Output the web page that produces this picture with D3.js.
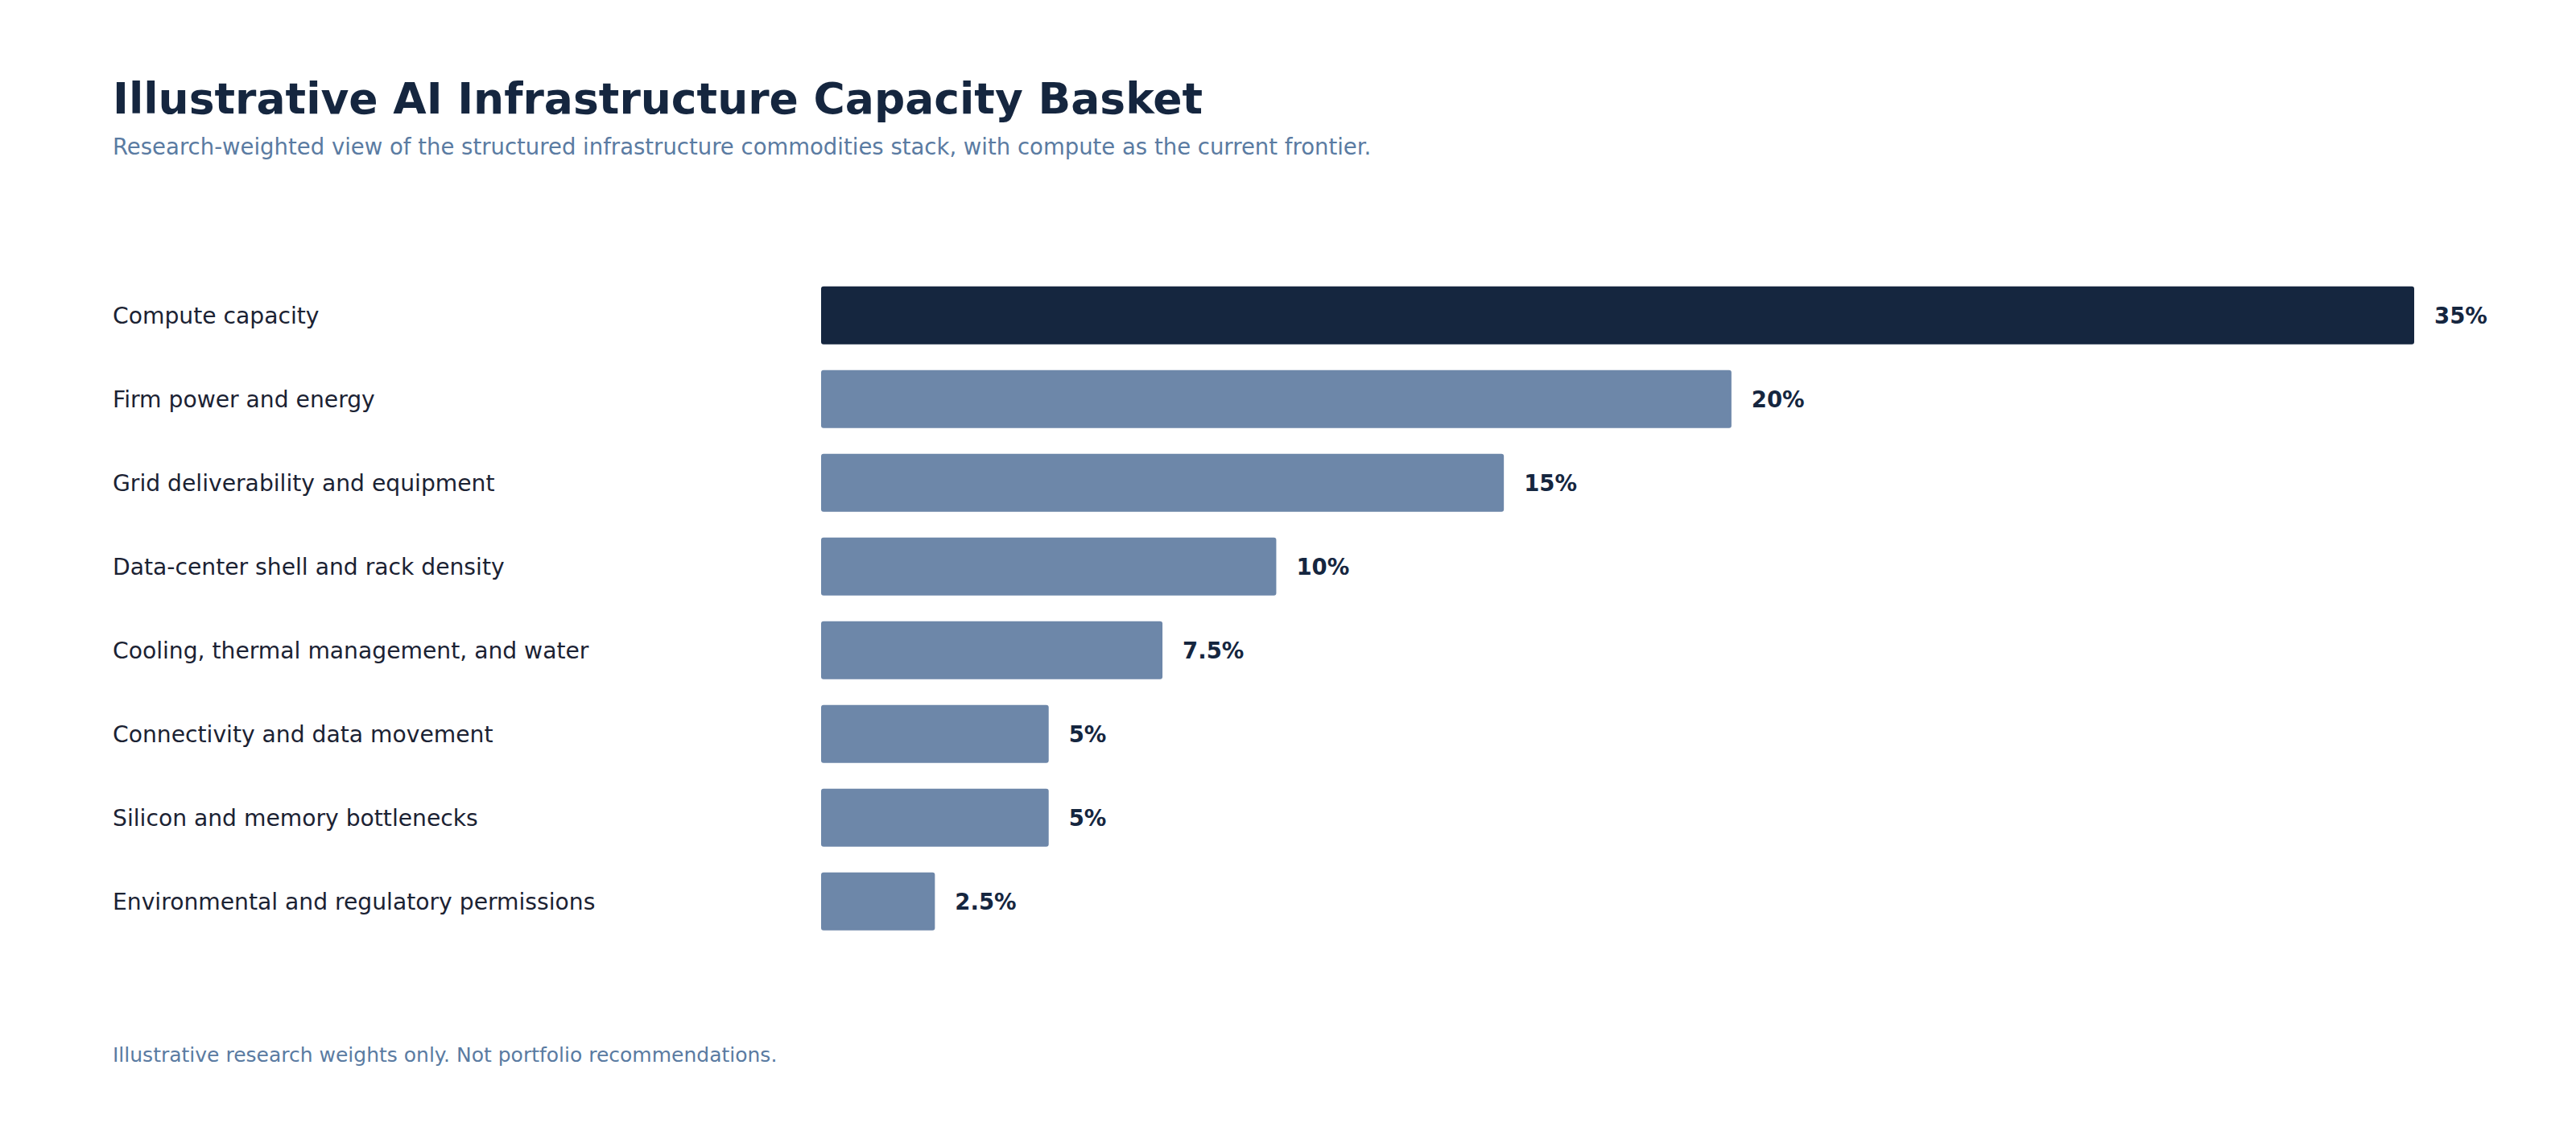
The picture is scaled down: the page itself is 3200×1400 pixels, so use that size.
<!DOCTYPE html>
<html>
<head>
<meta charset="utf-8">
<script src="https://cdn.jsdelivr.net/npm/d3@7"></script>
<style>
  body { margin: 0; background: #ffffff; }
  svg text { font-family: "DejaVu Sans", sans-serif; }
</style>
</head>
<body>
<div id="chart"></div>
<script>
// basket weights, in percent
var categories = [
    'Compute capacity',
    'Firm power and energy',
    'Grid deliverability and equipment',
    'Data-center shell and rack density',
    'Cooling, thermal management, and water',
    'Connectivity and data movement',
    'Silicon and memory bottlenecks',
    'Environmental and regulatory permissions'
];
var weights = [35, 20, 15, 10, 7.5, 5, 5, 2.5];
var weightLabels = ['35%', '20%', '15%', '10%', '7.5%', '5%', '5%', '2.5%'];

var width = 3200;
var height = 1400;
var darkNavy = '#15263f';
var slate = '#6d87a9';
var mutedBlue = '#5a7ba2';

var svg = d3.select('#chart')
    .append('svg')
    .attr('width', width)
    .attr('height', height);

svg.append('rect')
    .attr('width', width)
    .attr('height', height)
    .attr('fill', '#ffffff');

// title block
svg.append('text')
    .attr('x', 140)
    .attr('y', 141)
    .attr('font-size', 53.5)
    .attr('font-weight', 'bold')
    .attr('fill', darkNavy)
    .text('Illustrative AI Infrastructure Capacity Basket');

svg.append('text')
    .attr('x', 140)
    .attr('y', 192)
    .attr('font-size', 27.5)
    .attr('fill', mutedBlue)
    .text('Research-weighted view of the structured infrastructure commodities stack, with compute as the current frontier.');

var x = d3.scaleLinear()
    .domain([0, 35])
    .range([1020, 2999]);

var y = d3.scaleBand()
    .domain(categories)
    .range([323.7, 1187.7])
    .padding(0.3077);

var rows = svg.append('g')
    .selectAll('g')
    .data(categories)
    .join('g');

rows.append('text')
    .attr('x', 140)
    .attr('y', function (d) { return y(d) + y.bandwidth() / 2; })
    .attr('dy', '0.36em')
    .attr('font-size', 28.2)
    .attr('fill', '#1b2233')
    .text(function (d) { return d; });

rows.append('rect')
    .attr('x', x(0))
    .attr('y', function (d) { return y(d); })
    .attr('width', function (d, i) { return x(weights[i]) - x(0); })
    .attr('height', y.bandwidth())
    .attr('rx', 3)
    .attr('ry', 3)
    .attr('fill', function (d, i) { return i === 0 ? darkNavy : slate; });

rows.append('text')
    .attr('x', function (d, i) { return x(weights[i]) + 25; })
    .attr('y', function (d) { return y(d) + y.bandwidth() / 2; })
    .attr('dy', '0.36em')
    .attr('font-size', 27.5)
    .attr('font-weight', 'bold')
    .attr('fill', darkNavy)
    .text(function (d, i) { return weightLabels[i]; });

// footnote
svg.append('text')
    .attr('x', 140)
    .attr('y', 1319)
    .attr('font-size', 25)
    .attr('fill', mutedBlue)
    .text('Illustrative research weights only. Not portfolio recommendations.');
</script>
</body>
</html>
